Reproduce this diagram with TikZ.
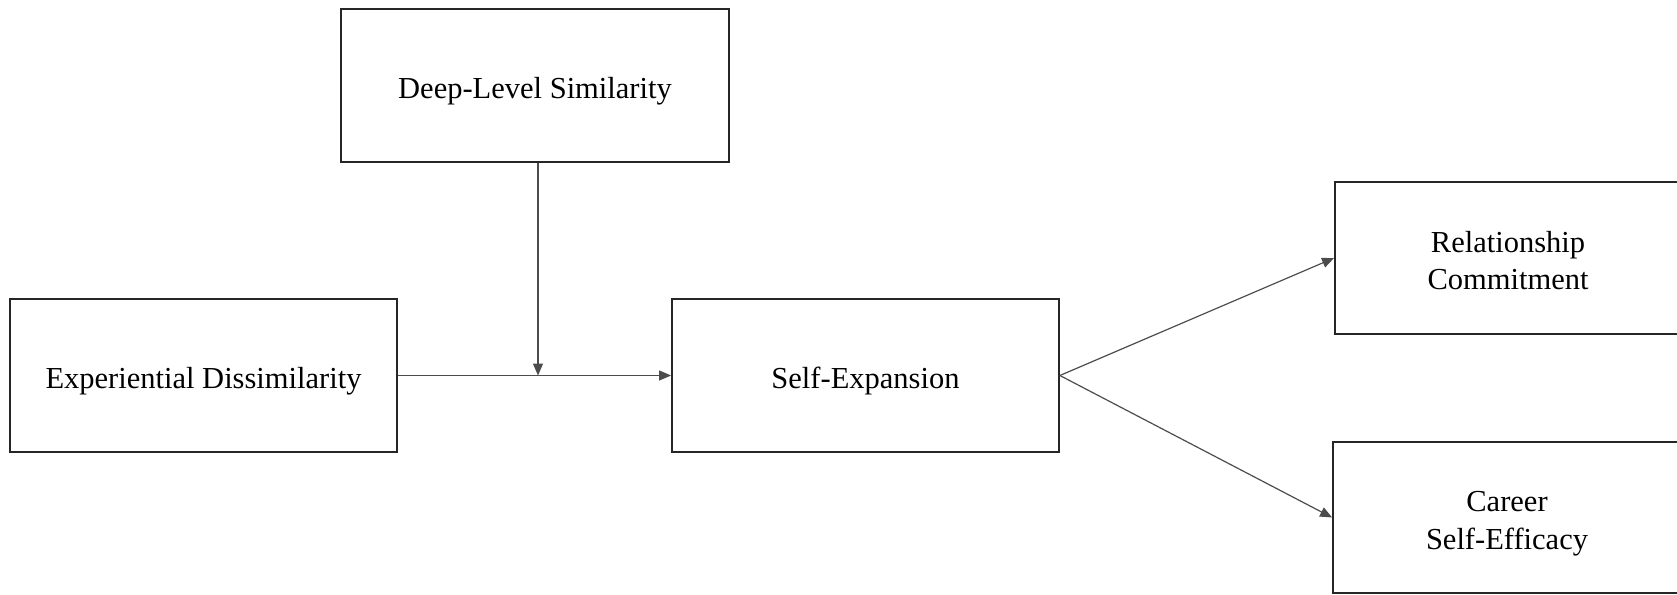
\documentclass[tikz,border=0pt]{standalone}
\usepackage{fontspec}
\setmainfont{Liberation Serif}
\usetikzlibrary{arrows.meta}
\newcommand{\boxtext}[1]{\raisebox{-5.5pt}[\height][\depth]{\begin{tabular}{@{}c@{}}#1\end{tabular}}}
\begin{document}
\begin{tikzpicture}[x=1pt,y=-1pt,
  box/.style={draw=black!85, line width=1.8pt, inner sep=0pt,
    font=\fontsize{30.5}{37.5}\selectfont},
  link/.style={draw=black!70, line width=1.2pt, -{Triangle[length=12pt,width=10pt]}}]
\useasboundingbox (0,0) rectangle (1677,594);
\clip (0,0) rectangle (1677,594);
\node[box, minimum width=388, minimum height=153] (deep) at (535,85.5) {\boxtext{Deep-Level Similarity}};
\node[box, minimum width=387, minimum height=153] (exp) at (203.5,375.5) {\boxtext{Experiential Dissimilarity}};
\node[box, minimum width=387, minimum height=153] (self) at (865.5,375.5) {\boxtext{Self-Expansion}};
\node[box, minimum width=346, minimum height=152] (rel) at (1508,258) {\boxtext{Relationship\\Commitment}};
\node[box, minimum width=348, minimum height=151] (car) at (1507,517.5) {\boxtext{Career\\Self-Efficacy}};
\coordinate (j) at (538,375.5);
\draw[link] (exp.east) -- (self.west);
\draw[link] (deep.south -| j) -- (j);
\draw[link] (self.east) -- (rel.west);
\draw[link] (self.east) -- (car.west);
\end{tikzpicture}
\end{document}
